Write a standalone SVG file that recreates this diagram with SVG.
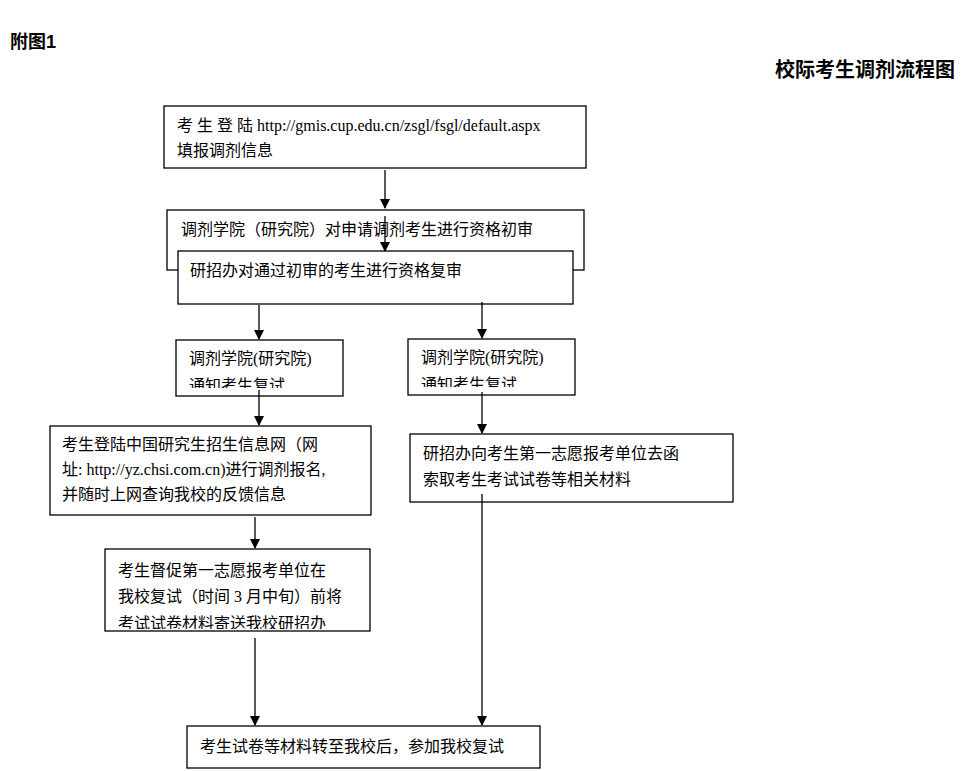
<svg xmlns="http://www.w3.org/2000/svg" width="976" height="771" viewBox="0 0 976 771">
<style>
.b{fill:#fff;stroke:#000;stroke-width:1.3}
.t{font-family:"Liberation Serif","Noto Sans CJK SC",serif;font-size:16px;fill:#000}
.h{font-family:"Liberation Sans","Noto Sans CJK SC",sans-serif;font-weight:bold;fill:#000}
.c line{stroke:#000;stroke-width:1.3;marker-end:url(#a)}
</style>
<defs>
<marker id="a" markerWidth="10" markerHeight="10" refX="9" refY="5" orient="auto" markerUnits="userSpaceOnUse"><path d="M0,0L10,5L0,10z"/></marker>
<clipPath id="c4"><rect x="176" y="340" width="167" height="48"/></clipPath>
<clipPath id="c5"><rect x="408" y="339" width="167" height="48"/></clipPath>
<clipPath id="c8"><rect x="105" y="549" width="265" height="80"/></clipPath>
</defs>
<rect width="976" height="771" fill="#fff"/>
<text class="h" x="10" y="48" font-size="18">附图1</text>
<text class="h" x="955" y="77" font-size="20" text-anchor="end">校际考生调剂流程图</text>
<g id="n1"><rect class="b" x="164" y="106" width="422" height="62"/>
<text class="t" x="177" y="131">考 生 登 陆 <tspan>http://gmis.cup.edu.cn/zsgl/fsgl/default.aspx</tspan></text>
<text class="t" x="177" y="156">填报调剂信息</text></g>
<g id="n2"><rect class="b" x="167" y="210" width="417" height="60"/>
<text class="t" x="181" y="235">调剂学院（研究院）对申请调剂考生进行资格初审</text></g>
<g id="n3"><rect class="b" x="178" y="251" width="395" height="53"/>
<text class="t" x="190" y="276">研招办对通过初审的考生进行资格复审</text></g>
<g id="n4"><rect class="b" x="176" y="340" width="167" height="56"/>
<g clip-path="url(#c4)"><text class="t" x="189" y="364">调剂学院(研究院)</text><text class="t" x="189" y="391">通知考生复试</text></g></g>
<g id="n5"><rect class="b" x="408" y="339" width="167" height="56"/>
<g clip-path="url(#c5)"><text class="t" x="421" y="363">调剂学院(研究院)</text><text class="t" x="421" y="390">通知考生复试</text></g></g>
<g id="n6"><rect class="b" x="50" y="426" width="321" height="89"/>
<text class="t" x="62" y="450">考生登陆中国研究生招生信息网（网</text>
<text class="t" x="62" y="475">址: http://yz.chsi.com.cn)进行调剂报名,</text>
<text class="t" x="62" y="500">并随时上网查询我校的反馈信息</text></g>
<g id="n7"><rect class="b" x="410" y="434" width="323" height="68"/>
<text class="t" x="423" y="459">研招办向考生第一志愿报考单位去函</text>
<text class="t" x="423" y="485">索取考生考试试卷等相关材料</text></g>
<g id="n8"><rect class="b" x="105" y="549" width="265" height="82"/>
<g clip-path="url(#c8)"><text class="t" x="118" y="576">考生督促第一志愿报考单位在</text>
<text class="t" x="118" y="602">我校复试（时间 3 月中旬）前将</text>
<text class="t" x="118" y="629">考试试卷材料寄送我校研招办</text></g></g>
<g id="n9"><rect class="b" x="187" y="726" width="353" height="42"/>
<text class="t" x="200" y="752">考生试卷等材料转至我校后，参加我校复试</text></g>
<g class="c" id="edges">
<line x1="385" y1="170" x2="385" y2="208"/>
<line x1="385" y1="216" x2="385" y2="251"/>
<line x1="259" y1="305" x2="259" y2="339"/>
<line x1="482" y1="302" x2="482" y2="338"/>
<line x1="259" y1="390" x2="259" y2="425"/>
<line x1="482" y1="392" x2="482" y2="433"/>
<line x1="255" y1="517" x2="255" y2="548"/>
<line x1="255" y1="638" x2="255" y2="725"/>
<line x1="482" y1="494" x2="482" y2="725"/>
</g>
</svg>
